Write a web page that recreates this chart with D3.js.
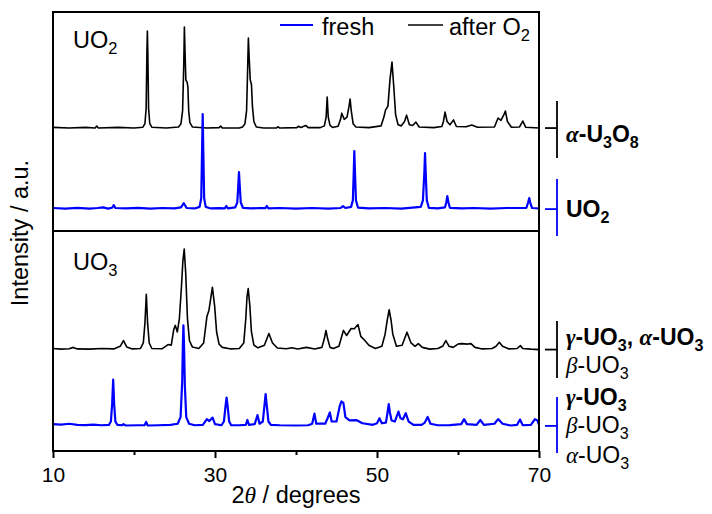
<!DOCTYPE html>
<html><head><meta charset="utf-8">
<script src="https://cdn.jsdelivr.net/npm/d3@7/dist/d3.min.js"></script>
<style>body{margin:0;background:#fff}svg{display:block}</style>
</head><body>
<script>
// ---- data (2θ in degrees, intensity in a.u. above each trace's own baseline) ----
const xTicksMajor = [10, 30, 50, 70];
const xTicksMinor = [20, 40, 60];
const seriesNames = ["fresh", "after O₂"];

// UO2 panel, after O2 (alpha-U3O8)
const uo2After = [[10,0.3],[12,0],[14,0.3],[15.2,0],[15.4,0.9],[15.6,0],[18,0.3],[20,0],[21.1,0.4],[21.35,2],[21.5,9],[21.6,36],[21.65,44.3],[21.7,36],[21.8,9],[21.95,2],[22.2,0.4],[24,0],[25.5,0.5],[25.8,2],[26.0,8],[26.15,30],[26.22,46.1],[26.3,35],[26.4,22],[26.55,21],[26.65,19],[26.75,8],[26.9,2.5],[27.2,0.5],[29,0],[30.5,0.2],[30.7,0.9],[30.9,0],[33,0],[33.4,0.5],[33.7,2],[33.9,8],[34.05,30],[34.12,41.1],[34.22,32],[34.35,22],[34.5,20],[34.62,10],[34.8,3],[35.1,0.5],[36,0],[37.6,0.1],[37.8,0.6],[38.0,0],[40.1,0.2],[40.3,0.8],[40.6,0.3],[41.2,1.2],[41.5,0.2],[43,0.2],[43.5,1],[43.72,5],[43.85,14.2],[43.98,5],[44.2,1.2],[44.5,0.3],[45.2,0.8],[45.5,4],[45.65,6.8],[45.95,4],[46.3,5],[46.55,10],[46.68,13.2],[46.82,8],[47.05,2],[47.4,0.5],[49,0.2],[50.5,1],[50.85,5],[51.05,8.2],[51.35,10],[51.6,22],[51.85,30.1],[52.05,20],[52.3,6],[52.6,1.5],[53,1],[53.4,3],[53.65,5.9],[54,1.5],[54.4,1.2],[54.8,2.7],[55.2,0.5],[57,0.2],[58.0,0.7],[58.2,3],[58.4,7.3],[58.65,3],[59.0,1.5],[59.45,3.7],[59.8,0.7],[61,0.6],[61.7,1.4],[62.4,0.4],[64.5,0.5],[64.95,4.6],[65.3,3.5],[65.65,6],[65.85,7.8],[66.1,3],[66.6,0.4],[67.6,0.5],[68.0,3.2],[68.35,0.4],[70,0]];
// UO2 panel, fresh (UO2)
const uo2Fresh = [[10,0.5],[11.5,0.2],[13,0.6],[14.5,0.2],[15.5,0.5],[16.2,0.8],[16.8,0.2],[17.3,0.6],[17.5,1.8],[17.7,0.5],[19,0.3],[20.5,0.6],[22,0.2],[23.5,0.5],[25,0.3],[25.8,0.8],[26.15,2.7],[26.5,0.5],[27.5,0.3],[28.1,1],[28.3,5],[28.41,28],[28.48,43.4],[28.55,28],[28.66,5],[28.85,1],[29.5,0.3],[30.5,0.4],[31.2,0.3],[31.4,1.4],[31.6,0.3],[32.5,0.8],[32.75,3],[32.88,11],[32.96,16.9],[33.05,11],[33.18,3],[33.45,0.6],[34.5,0.3],[35.5,0.5],[36.2,0.4],[36.4,1.4],[36.6,0.3],[38,0.5],[40,0.2],[42,0.5],[44,0.2],[45.5,0.5],[45.8,1.4],[46.1,0.5],[46.8,1],[47.02,4],[47.13,17],[47.2,26.5],[47.28,17],[47.4,4],[47.65,0.7],[49,0.3],[51,0.5],[53,0.2],[55.4,1],[55.67,4],[55.85,17],[55.93,25.6],[56.02,16],[56.15,4],[56.4,0.6],[57.5,0.3],[58.4,0.8],[58.55,3],[58.68,5.9],[58.82,3],[59.0,0.6],[60.5,0.3],[62,0.5],[64,0.2],[66,0.5],[68.45,0.6],[68.65,3],[68.8,5.0],[68.95,2.5],[69.15,0.5],[70,0.3]];
// UO3 panel, after O2
const uo3After = [[10,0.5],[11,0.2],[12,0.4],[12.5,1.0],[13,0.3],[14.5,0.2],[16,0.5],[17.5,0.3],[18.3,1.5],[18.7,4.1],[19.1,1.2],[19.8,0.3],[20.8,0.5],[21.15,3],[21.35,12],[21.52,25.1],[21.68,12],[21.88,3],[22.2,0.5],[23.5,0.4],[24.2,2.3],[24.6,2],[24.9,9],[25.1,11],[25.35,8],[25.6,14],[25.85,28],[26.03,40],[26.2,45.7],[26.38,35],[26.6,14],[26.85,4],[27.2,1.2],[28,0.5],[28.6,3],[29.0,15],[29.25,17.8],[29.5,24],[29.68,28.3],[29.95,20],[30.2,8],[30.5,2.5],[30.9,1],[32,0.3],[33,0.5],[33.55,3],[33.8,14],[33.95,24],[34.1,27.7],[34.3,20],[34.5,8],[34.8,2],[35.3,0.8],[36.1,2],[36.65,7.3],[37.1,3],[37.7,0.7],[38.8,0.4],[39.5,0.8],[40.2,0.3],[41.3,1.0],[42.3,0.3],[43.2,1],[43.5,5],[43.7,8.7],[43.9,5],[44.2,1],[44.6,0.5],[45.3,1.5],[45.85,8.7],[46.25,6.4],[46.8,9.6],[47.2,9.5],[47.65,11.4],[48.0,6],[48.5,4.1],[49.0,2],[49.8,0.5],[50.6,1.5],[51.0,7],[51.25,13],[51.5,18.1],[51.75,13],[51.95,7],[52.4,1.5],[53.1,2],[53.7,7.9],[54.2,3],[54.7,1.5],[55.1,2.7],[55.6,1],[56.5,0.2],[57.5,0.5],[58.1,1.5],[58.5,4.1],[58.9,1.5],[59.4,1],[60.0,2.5],[60.4,2.7],[61.2,2.5],[61.6,2.7],[62.1,1],[63,0.3],[64.2,0.5],[64.7,1.5],[65.1,3.3],[65.5,1.5],[66.3,0.3],[67.3,0.5],[67.7,1.8],[68.0,0.5],[69,0.2],[70,0]];
// UO3 panel, fresh
const uo3Fresh = [[10,0.8],[11,0.6],[12,1.0],[13,0.5],[14,0.4],[15,0.6],[16,0.3],[16.9,0.5],[17.15,2],[17.3,10],[17.43,21],[17.55,10],[17.7,2],[17.95,0.5],[18.5,0.3],[18.7,0.8],[19,0.2],[20.5,0.3],[21.3,0.3],[21.5,1.8],[21.7,0.2],[23,0.3],[24.5,0.5],[25.4,1],[25.75,4],[25.95,20],[26.04,38],[26.1,45.7],[26.17,38],[26.28,18],[26.45,4],[26.8,1],[27.5,0.3],[28.5,0.5],[29.0,3.1],[29.3,2.2],[29.7,3.8],[30.0,0.8],[30.8,0.3],[31.1,2],[31.3,9],[31.43,12.9],[31.56,9],[31.75,2],[32,0.3],[33,0.3],[33.8,0.5],[34.0,2.7],[34.2,0.5],[34.9,0.8],[35.25,4.9],[35.5,1],[35.9,2],[36.1,9],[36.25,14.5],[36.4,9],[36.6,2],[36.9,0.5],[38,0.3],[40,0.2],[41.5,0.3],[42.0,1],[42.28,5.6],[42.5,1],[43.6,1],[43.9,3.5],[44.18,6.1],[44.4,2],[45.0,2],[45.4,9],[45.6,11.1],[45.85,10.5],[46.1,4],[46.6,2.5],[47.5,2.6],[48.2,1.2],[49.5,0.5],[50.0,1.2],[50.3,3.5],[50.6,1.2],[51.1,1.5],[51.3,6],[51.45,9.9],[51.6,6],[51.8,2.5],[52.2,2],[52.65,6.5],[52.9,3.5],[53.2,3],[53.55,5.8],[53.9,2],[54.5,0.5],[55.5,0.5],[55.9,1.5],[56.25,4.1],[56.6,1],[57.5,0.3],[59,0.4],[60.4,0.8],[60.75,3.1],[61.1,0.8],[62.3,0.5],[62.75,2.7],[63.2,0.5],[64.5,1],[64.95,3.1],[65.5,1],[66.5,0.2],[67.3,0.5],[67.65,2.9],[68.0,0.3],[69.0,0.5],[69.5,3.1],[69.8,2.5],[70,0.5]];

// vertical stacking offsets of each trace (a.u.)
const uo2Offsets = {fresh: 10, after: 47};
const uo3Offsets = {fresh: 11.4, after: 46.1};

// ---- layout ----
const W = 712, H = 514;
const L = 53, R = 539, T = 12, M = 231, B = 451;
const BLUE = "#0000ff";
const SANS = "'Liberation Sans', Arial, Helvetica, sans-serif";
const SERIF = "'Liberation Serif', 'Times New Roman', serif";

const svg = d3.select("body").append("svg").attr("width", W).attr("height", H)
  .style("font-family", SANS);

const x = d3.scaleLinear().domain([10, 70]).range([L, R]);
const yTop = d3.scaleLinear().domain([0, 100]).range([M, T]);
const yBot = d3.scaleLinear().domain([0, 100]).range([B, M]);

function drawTrace(data, y, off, color, w) {
  const line = d3.line().x(d => x(d[0])).y(d => y(d[1] + off));
  svg.append("path").datum(data).attr("d", line)
    .attr("fill", "none").attr("stroke", color).attr("stroke-width", w)
    .attr("stroke-linejoin", "round");
}
drawTrace(uo2After, yTop, uo2Offsets.after, "#000", 1.6);
drawTrace(uo2Fresh, yTop, uo2Offsets.fresh, BLUE, 2.2);
drawTrace(uo3After, yBot, uo3Offsets.after, "#000", 1.6);
drawTrace(uo3Fresh, yBot, uo3Offsets.fresh, BLUE, 2.2);

// frame
svg.append("rect").attr("x", L).attr("y", T).attr("width", R - L).attr("height", B - T)
  .attr("fill", "none").attr("stroke", "#000").attr("stroke-width", 2);
svg.append("line").attr("x1", L).attr("x2", R).attr("y1", M).attr("y2", M)
  .attr("stroke", "#000").attr("stroke-width", 2);

// x axis
const axMaj = svg.append("g").attr("transform", `translate(0,${B})`)
  .call(d3.axisBottom(x).tickValues(xTicksMajor).tickSize(7).tickPadding(9).tickFormat(d3.format("d")));
const axMin = svg.append("g").attr("transform", `translate(0,${B})`)
  .call(d3.axisBottom(x).tickValues(xTicksMinor).tickSize(4).tickFormat(""));
[axMaj, axMin].forEach(g => {
  g.select(".domain").remove();
  g.selectAll(".tick line").attr("stroke", "#000").attr("stroke-width", 2);
  g.selectAll(".tick text").attr("font-family", SANS).attr("font-size", 21).attr("fill", "#000");
});

// rich text helper
function rich(xp, yp, segs, opts = {}) {
  const size = opts.size || 23;
  const t = svg.append("text").attr("x", xp).attr("y", yp)
    .attr("font-size", size).attr("font-weight", opts.bold ? "bold" : "normal")
    .attr("text-anchor", opts.anchor || "start").attr("fill", "#000");
  if (opts.transform) t.attr("transform", opts.transform);
  let wasSub = false;
  segs.forEach(s => {
    const [txt, o = {}] = typeof s === "string" ? [s, {}] : s;
    const sp = t.append("tspan").text(txt);
    if (o.serif) sp.attr("font-family", SERIF);
    if (o.italic) sp.attr("font-style", "italic");
    if (o.sub) { sp.attr("font-size", size * 0.7).attr("dy", wasSub ? 0 : 6); wasSub = true; }
    else if (wasSub) { sp.attr("dy", -6); wasSub = false; }
  });
  return t;
}

// axis titles
rich((L + R) / 2, 503, ["2", ["θ", {serif: true, italic: true}], " / degrees"], {anchor: "middle", size: 23.5});
rich(0, 0, ["Intensity / a.u."], {anchor: "middle", size: 23.5, transform: "translate(28,233) rotate(-90)"});

// panel labels
rich(73, 48, ["UO", ["2", {sub: true}]], {size: 23.5});
rich(73, 270, ["UO", ["3", {sub: true}]], {size: 23.5});

// legend
svg.append("line").attr("x1", 280).attr("x2", 313).attr("y1", 25).attr("y2", 25).attr("stroke", BLUE).attr("stroke-width", 2.2);
rich(322, 35, [seriesNames[0]], {size: 23.5});
svg.append("line").attr("x1", 408).attr("x2", 443).attr("y1", 25).attr("y2", 25).attr("stroke", "#000").attr("stroke-width", 1.6);
rich(449, 35, ["after O", ["2", {sub: true}]], {size: 23.5});

// phase brackets on the right
function bracket(yc, y1, y2, color) {
  svg.append("line").attr("x1", 545).attr("x2", 557).attr("y1", yc).attr("y2", yc).attr("stroke", color).attr("stroke-width", 1.8);
  svg.append("line").attr("x1", 557).attr("x2", 557).attr("y1", y1).attr("y2", y2).attr("stroke", color).attr("stroke-width", 1.8);
}
bracket(yTop(uo2Offsets.after), 101, 158, "#000");
bracket(yTop(uo2Offsets.fresh), 179, 236, BLUE);
bracket(yBot(uo3Offsets.after), 321, 378, "#000");
bracket(yBot(uo3Offsets.fresh), 397, 453, BLUE);

const G = (c) => [c, {serif: true, italic: true}];
rich(566, 142, [G("α"), "-U", ["3", {sub: true}], "O", ["8", {sub: true}]], {bold: true, size: 23});
rich(566, 217, ["UO", ["2", {sub: true}]], {bold: true, size: 23});
rich(566, 345, [G("γ"), "-UO", ["3", {sub: true}], ", ", G("α"), "-UO", ["3", {sub: true}]], {bold: true, size: 23});
rich(566, 373, [G("β"), "-UO", ["3", {sub: true}]], {size: 23});
rich(566, 405, [G("γ"), "-UO", ["3", {sub: true}]], {bold: true, size: 23});
rich(566, 433, [G("β"), "-UO", ["3", {sub: true}]], {size: 23});
rich(566, 463, [G("α"), "-UO", ["3", {sub: true}]], {size: 23});
</script>
</body></html>
